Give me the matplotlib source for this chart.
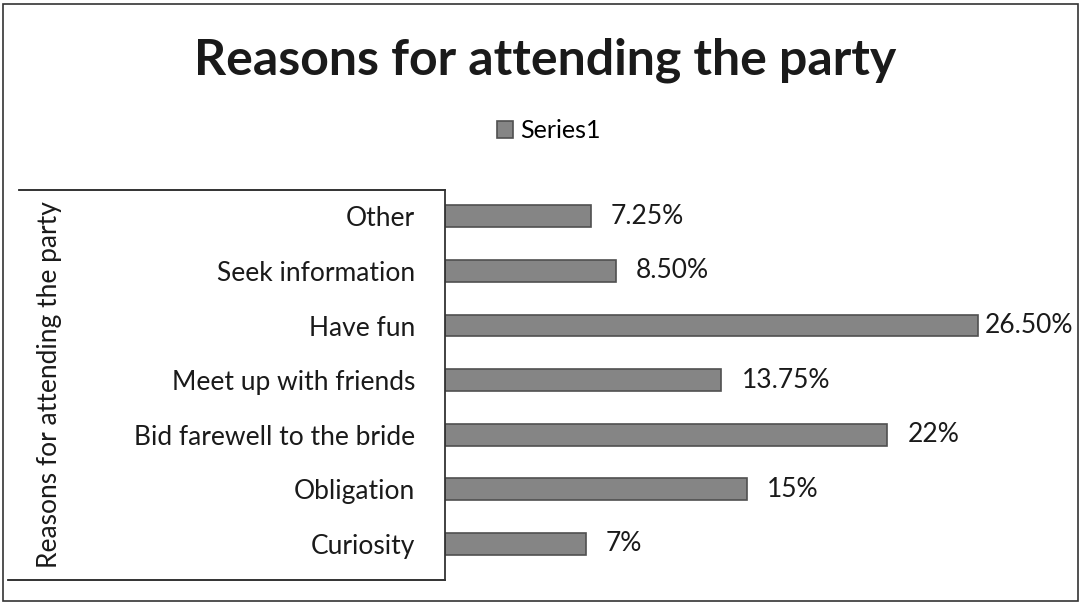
import matplotlib.pyplot as plt
from matplotlib.patches import Rectangle

plt.rcParams['font.family'] = ['Lato', 'DejaVu Sans']

# reasons, bottom to top
reasons = ['Curiosity', 'Obligation', 'Bid farewell to the bride',
           'Meet up with friends', 'Have fun', 'Seek information', 'Other']
shares = [7, 15, 22, 13.75, 26.5, 8.5, 7.25]
share_labels = ['7%', '15%', '22%', '13.75%', '26.50%', '8.50%', '7.25%']

fig = plt.figure(figsize=(10.82, 6.08), dpi=100)
ax = fig.add_axes([0.4113, 0.046, 0.5573, 0.6414])

bars = ax.barh(range(len(reasons)), shares, height=0.40,
               color='#858585', edgecolor='#505050', linewidth=1.2,
               label='Series1')

# value labels; the longest bar gets its label tucked in closer
top = max(shares)
for b, txt in zip(bars, share_labels):
    off = 0.35 if b.get_width() == top else 1.0
    ax.text(b.get_width() + off, b.get_y() + b.get_height() / 2, txt,
            va='center', ha='left', fontsize=19, color='#1a1a1a')

ax.set_ylim(-0.66, 6.48)
ax.set_xlim(0, 30)
ax.set_yticks(range(len(reasons)))
ax.set_yticklabels(reasons, fontsize=19, color='#1a1a1a')
ax.tick_params(axis='y', length=0, pad=21.6)
ax.set_xticks([])
for s in ['top', 'right', 'bottom']:
    ax.spines[s].set_visible(False)
ax.spines['left'].set_color('#333333')
ax.spines['left'].set_linewidth(1.3)

# frame lines above and below the category labels
ax.plot([-0.706, 0], [1, 1], transform=ax.transAxes, color='#222222',
        lw=1.3, clip_on=False)
ax.plot([-0.725, 0], [0, 0], transform=ax.transAxes, color='#222222',
        lw=1.3, clip_on=False)

fig.text(0.046, 0.367, 'Reasons for attending the party', rotation=90,
         ha='center', va='center', fontsize=19, color='#1a1a1a')

fig.text(0.504, 0.877, 'Reasons for attending the party', fontsize=36,
         fontweight='bold', color='#1a1a1a', ha='center', va='baseline')

fig.legend(handles=[bars], labels=['Series1'], loc='center left',
           bbox_to_anchor=(0.459, 0.785), frameon=False, fontsize=18,
           borderpad=0, borderaxespad=0,
           handlelength=0.64, handleheight=0.64, handletextpad=0.3)

fig.patches.append(Rectangle((0.003, 0.012), 0.993, 0.982,
                             transform=fig.transFigure, fill=False,
                             edgecolor='#333333', lw=1.2))

fig.savefig('out.png', dpi=100, facecolor='white')
